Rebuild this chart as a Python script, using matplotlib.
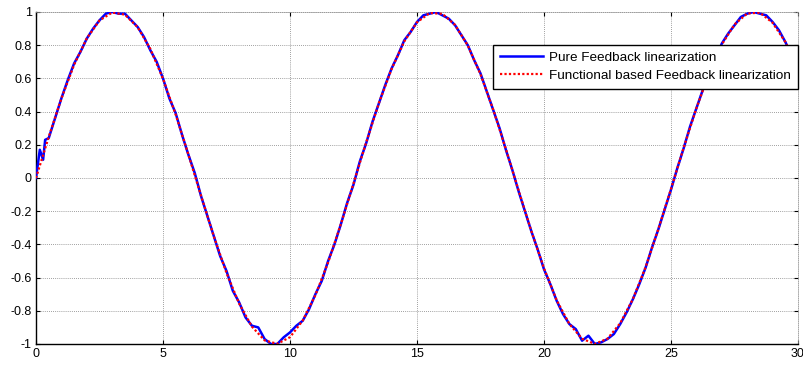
import numpy as np
import matplotlib
matplotlib.use("Agg")
import matplotlib.pyplot as plt

# ---- data ----
blue_t = [0.0, 0.15, 0.28, 0.36, 0.5] + list(np.arange(0.75, 30.01, 0.25))
blue_y = [0.0, 0.17, 0.11, 0.23, 0.24,
          0.36, 0.48, 0.59, 0.69, 0.76, 0.84, 0.90, 0.95, 0.99, 1.00,
          0.99, 0.99, 0.95, 0.91, 0.85, 0.77, 0.70, 0.60, 0.48, 0.39,
          0.26, 0.14, 0.03, -0.11, -0.23, -0.35, -0.47, -0.56, -0.68, -0.75,
          -0.84, -0.89, -0.90, -0.97, -1.00, -1.00, -0.96, -0.93, -0.89, -0.86,
          -0.79, -0.70, -0.62, -0.50, -0.40, -0.28, -0.15, -0.04, 0.10, 0.21,
          0.34, 0.45, 0.56, 0.66, 0.74, 0.83, 0.88, 0.94, 0.98, 0.99,
          1.00, 0.98, 0.96, 0.92, 0.86, 0.80, 0.71, 0.63, 0.52, 0.41,
          0.30, 0.17, 0.05, -0.08, -0.20, -0.32, -0.43, -0.55, -0.64, -0.74,
          -0.82, -0.88, -0.91, -0.98, -0.95, -1.00, -0.99, -0.97, -0.94, -0.88,
          -0.81, -0.73, -0.64, -0.54, -0.42, -0.31, -0.19, -0.07, 0.06, 0.18,
          0.31, 0.42, 0.53, 0.63, 0.72, 0.81, 0.87, 0.92, 0.97, 0.99,
          1.00, 0.99, 0.98, 0.94, 0.89, 0.82, 0.74, 0.65]

red_t = list(np.arange(0.0, 30.01, 0.5))
red_y = [0.0, 0.247, 0.479, 0.682, 0.841, 0.949, 0.997, 0.984, 0.909, 0.778,
         0.598, 0.382, 0.141, -0.108, -0.351, -0.572, -0.757, -0.895, -0.978, -0.999,
         -0.959, -0.859, -0.706, -0.509, -0.279, -0.033, 0.215, 0.451, 0.657, 0.823,
         0.938, 0.994, 0.989, 0.922, 0.798, 0.625, 0.412, 0.174, -0.075, -0.319,
         -0.544, -0.737, -0.880, -0.968, -1.000, -0.968, -0.875, -0.729, -0.537, -0.308,
         -0.066, 0.183, 0.420, 0.631, 0.804, 0.925, 0.991, 0.996, 0.935, 0.820,
         0.650]

series_labels = ["Pure Feedback linearization",
                 "Functional based Feedback linearization"]
x_ticks = [0, 5, 10, 15, 20, 25, 30]
x_ticklabels = ["0", "5", "10", "15", "20", "25", "30"]
y_ticks = [-1, -0.8, -0.6, -0.4, -0.2, 0, 0.2, 0.4, 0.6, 0.8, 1]
y_ticklabels = ["-1", "-0.8", "-0.6", "-0.4", "-0.2", "0", "0.2", "0.4", "0.6", "0.8", "1"]

plt.rcParams['font.family'] = ['Liberation Sans', 'DejaVu Sans']

fig = plt.figure(figsize=(8.04, 3.67), dpi=100)
ax = fig.add_axes([36/804, 1-344/367, (798-36)/804, (344-12)/367])

ax.plot(blue_t, blue_y, color=(0, 0, 1), lw=1.8, label=series_labels[0], zorder=3)
ax.plot(red_t, red_y, color=(1, 0, 0), lw=1.6, ls=(0, (1, 1.0)), label=series_labels[1], zorder=4)

ax.set_xlim(0, 30)
ax.set_ylim(-1, 1)
ax.set_xticks(x_ticks)
ax.set_xticklabels(x_ticklabels)
ax.set_yticks(y_ticks)
ax.set_yticklabels(y_ticklabels)
ax.tick_params(direction='in', length=3, width=0.8, labelsize=9, colors='black',
               top=True, right=True, pad=3)
ax.grid(True, color='#808080', ls=(0, (1, 1.5)), lw=0.6)

for s in ['left', 'bottom']:
    ax.spines[s].set_color('black')
    ax.spines[s].set_linewidth(1.0)
for s in ['top', 'right']:
    ax.spines[s].set_color('#999999')
    ax.spines[s].set_linewidth(0.6)
    ax.spines[s].set_linestyle((0, (1, 1.5)))

leg = ax.legend(loc='upper right', bbox_to_anchor=(1.0, (344-45)/332), borderaxespad=0,
                fancybox=False, framealpha=1, edgecolor='black', fontsize=9.7,
                handlelength=3.2, handletextpad=0.5, borderpad=0.5, labelspacing=0.4)
leg.get_frame().set_linewidth(1.0)

fig.savefig("out.png", dpi=100)
